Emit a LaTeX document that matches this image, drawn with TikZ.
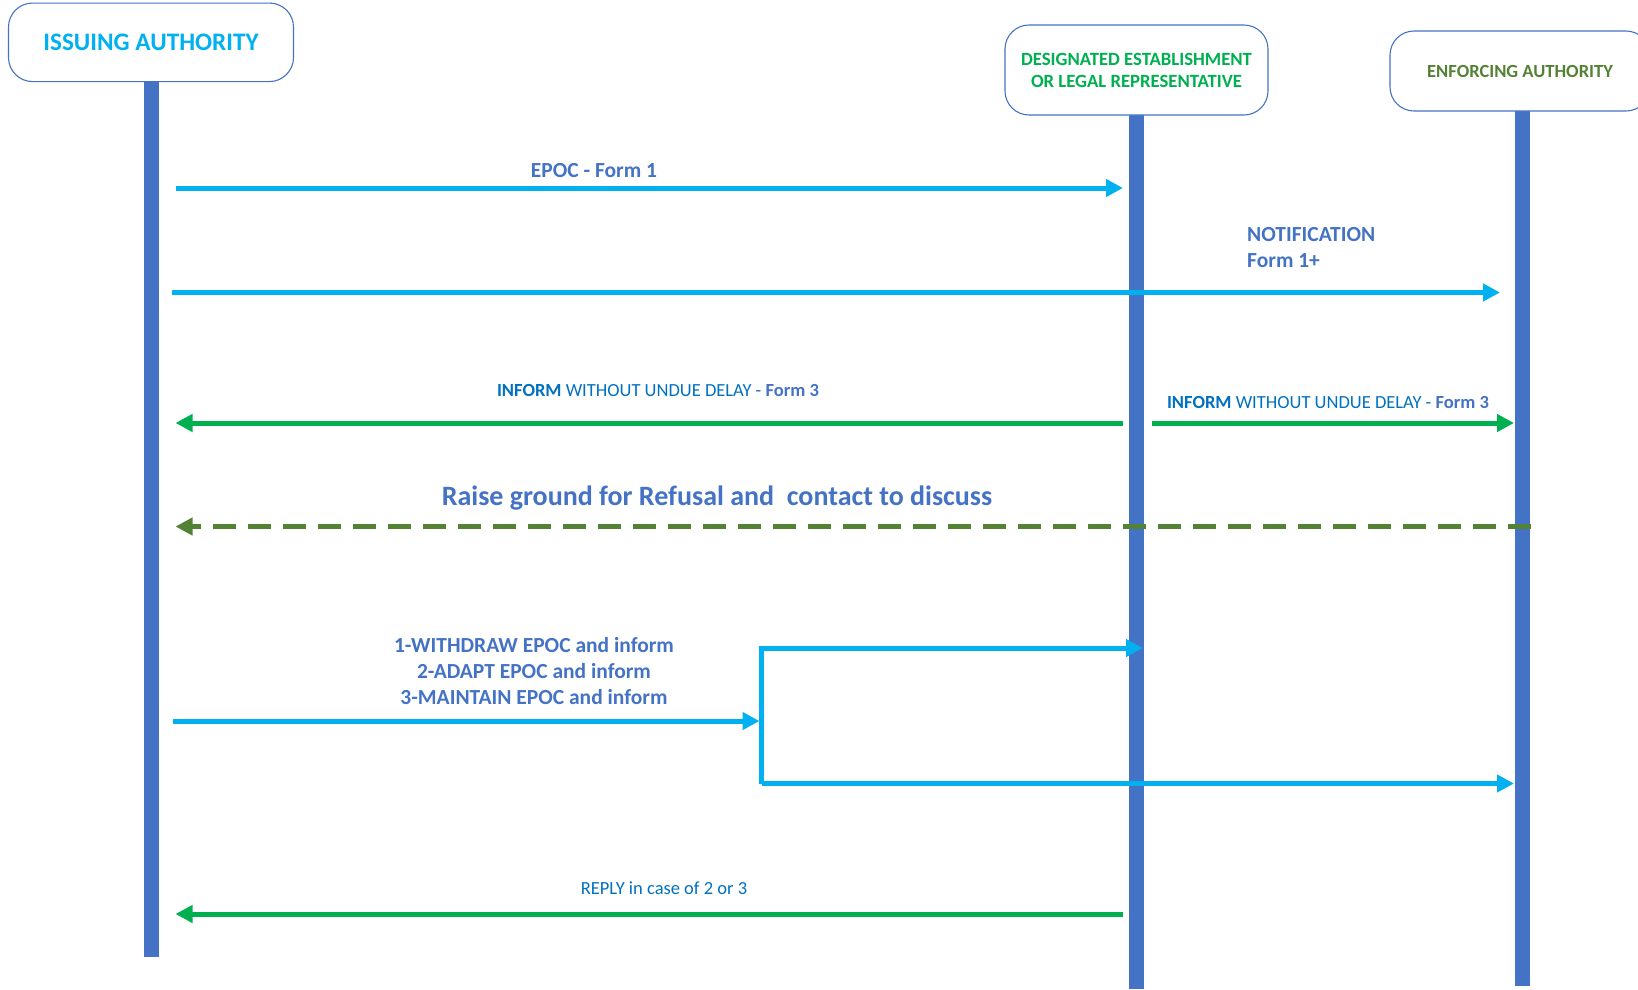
\documentclass[tikz,border=0pt]{standalone}
\usepackage{fontspec}
\setmainfont{Carlito}
\usetikzlibrary{arrows.meta}
\definecolor{skyc}{HTML}{00B0F0}
\definecolor{laneblue}{HTML}{4472C4}
\definecolor{msgreen}{HTML}{00B050}
\definecolor{olivec}{HTML}{548235}
\definecolor{deepblue}{HTML}{0070C0}
\begin{document}
\begin{tikzpicture}[x=1pt,y=-1pt,
  actor/.style={draw=laneblue, line width=1.1pt, rounded corners=24pt, fill=white,
    inner sep=0pt, align=center, font=\bfseries},
  lifeline/.style={draw=laneblue, line width=15pt},
  msg/.style={line width=5pt, -{Triangle[length=17pt,width=17pt]}},
  bluemsg/.style={msg, draw=skyc},
  greenmsg/.style={msg, draw=msgreen},
  refusal/.style={msg, draw=olivec, dash pattern=on 23pt off 12pt},
  lbl/.style={inner sep=0pt, align=center, text=laneblue, font=\bfseries\fontsize{21.5}{26}\selectfont},
  small/.style={inner sep=0pt, text=deepblue, font=\fontsize{18.5}{22}\selectfont}
]
\useasboundingbox (0,0) rectangle (1638,989);

% lifelines
\coordinate (isTop) at (151.5,60);
\coordinate (isBot) at (151.5,957);
\coordinate (deTop) at (1136.5,90);
\coordinate (deBot) at (1136.5,989);
\coordinate (enTop) at (1522,90);
\coordinate (enBot) at (1522,986);
\draw[lifeline] (isTop) -- (isBot);
\draw[lifeline] (deTop) -- (deBot);
\draw[lifeline] (enTop) -- (enBot);

% actor boxes
\node[actor, minimum width=285pt, minimum height=78.5pt, text=skyc,
      font=\bfseries\fontsize{25.2}{29}\selectfont] (issuing) at (151,42.3) {ISSUING AUTHORITY};
\node[actor, minimum width=263pt, minimum height=90pt, text=msgreen,
      font=\bfseries\fontsize{18.7}{22}\selectfont] (designated) at (1136.5,70)
      {DESIGNATED ESTABLISHMENT\\OR LEGAL REPRESENTATIVE};
\node[actor, minimum width=260pt, minimum height=80pt, text=olivec,
      font=\bfseries\fontsize{18.5}{22}\selectfont] (enforcing) at (1520,71) {ENFORCING AUTHORITY};

% message end points on the lifelines
\coordinate (a1s) at (175.5,188);   \coordinate (a1e) at (1123,188);
\coordinate (a2s) at (172,292.5);   \coordinate (a2e) at (1500,292.5);
\coordinate (a3s) at (1123,423);    \coordinate (a3e) at (175.5,423);
\coordinate (a4s) at (1152,423);    \coordinate (a4e) at (1514,423);
\coordinate (a5s) at (1531,526.5);  \coordinate (a5e) at (175.5,526.5);
\coordinate (a6s) at (173,721);     \coordinate (a6e) at (759.5,721);
\coordinate (forkTop) at (761.5,648);
\coordinate (forkBot) at (761.5,783.5);
\coordinate (a6d) at (1143,648);
\coordinate (a6f) at (1514,783.5);
\coordinate (a7s) at (1123,914);    \coordinate (a7e) at (175.5,914);

% messages
\draw[bluemsg] (a1s) -- (a1e);
\draw[bluemsg] (a2s) -- (a2e);
\draw[greenmsg] (a3s) -- (a3e);
\draw[greenmsg] (a4s) -- (a4e);
\draw[refusal] (a5s) -- (a5e);
\draw[bluemsg] (a6s) -- (a6e);
\draw[bluemsg] (forkBot) -- (forkTop) -- (a6d);
\draw[bluemsg] (forkBot) -- (a6f);
\draw[greenmsg] (a7s) -- (a7e);

% labels
\node[lbl] (l1) at (594,171) {EPOC - Form 1};
\node[lbl, anchor=west, align=left] (l2) at (1247,248) {NOTIFICATION\\Form 1+};
\node[small] (l3) at (658,390) {\textbf{INFORM} WITHOUT UNDUE DELAY - \textcolor{laneblue}{\textbf{Form 3}}};
\node[small] (l4) at (1328,402) {\textbf{INFORM} WITHOUT UNDUE DELAY - \textcolor{laneblue}{\textbf{Form 3}}};
\node[lbl, font=\bfseries\fontsize{28}{32}\selectfont] (l5) at (717,498)
  {Raise ground for Refusal and\ \ contact to discuss};
\node[lbl] (l6) at (534,671)
  {1-WITHDRAW EPOC and inform\\2-ADAPT EPOC and inform\\3-MAINTAIN EPOC and inform};
\node[small] (l7) at (664,888) {REPLY in case of 2 or 3};
\end{tikzpicture}
\end{document}
